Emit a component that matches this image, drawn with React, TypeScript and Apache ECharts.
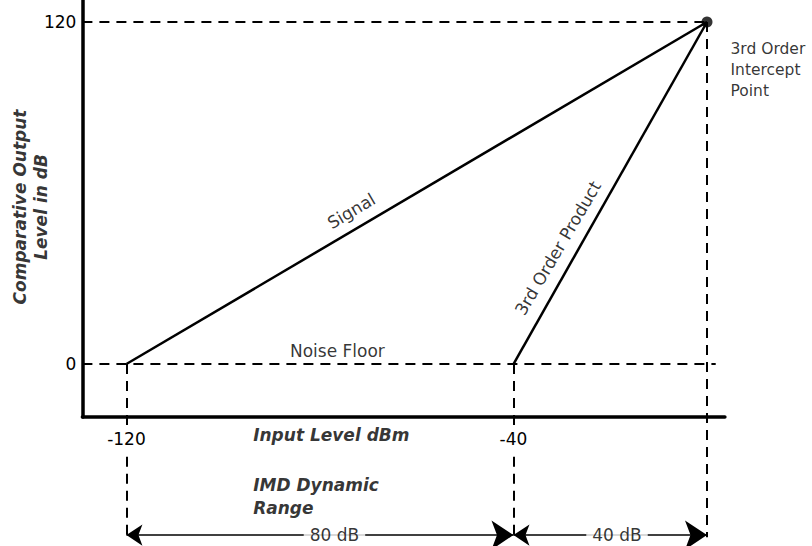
import React, { useEffect, useRef } from "react";
import * as echarts from "echarts";

// axis ranges (data units)
const xRange = [-129.1, 3.7];
const yRange = [-18.6, 127.7];
const xTickValues = [-120, -40];
const yTickValues = [0, 120];

// model lines
const signalLine = [[-120, 0], [0, 120]];
const productLine = [[-40, 0], [0, 120]];
const interceptPoint = [0, 120];

// dashed guide lines (vertical ones broken around the tick labels)
const guideLines = [
  [[-129.1, 120], [0, 120]],
  [[-129.1, 0], [1.8, 0]],
  [[-120, 0], [-120, -22]],
  [[-120, -32.5], [-120, -60.8]],
  [[-40, 0], [-40, -22]],
  [[-40, -32.5], [-40, -60.8]],
  [[0, 120], [0, -60.8]],
];

// dynamic range arrows
const rangeLevel = -60;
const rangeSpans = [
  [-120, -40],
  [-40, 0],
];
const rangeTexts = ["80 dB", "40 dB"];
const rangeTextX = [-77, -18.6];

const FONT = "DejaVu Sans";

export default function App() {
  const ref = useRef<HTMLDivElement>(null);
  useEffect(() => {
    const chart = echarts.init(ref.current!, null, { renderer: "svg" });
    const baseText = { color: "#000", fontFamily: FONT, fontSize: 17 };
    const boldText = { ...baseText, fontWeight: "bold", fontStyle: "italic" };
    const ann = (value: number[], text: string, extra: any) => ({
      value,
      label: { show: true, formatter: text, position: "inside", align: "center", verticalAlign: "middle", ...baseText, ...extra },
    });
    chart.setOption({
      animation: false,
      grid: { left: 82.4, top: 0.05, width: 642.5, height: 417 },
      xAxis: {
        type: "value",
        min: xRange[0],
        max: xRange[1],
        axisLine: { show: true, onZero: false, lineStyle: { color: "#000", width: 3.5 } },
        axisTick: { show: false },
        splitLine: { show: false },
        axisLabel: { customValues: xTickValues, margin: 13, ...baseText },
      },
      yAxis: {
        type: "value",
        min: yRange[0],
        max: yRange[1],
        axisLine: { show: true, onZero: false, lineStyle: { color: "#000", width: 3.5 } },
        axisTick: { show: false },
        splitLine: { show: false },
        axisLabel: { customValues: yTickValues, margin: 6, ...baseText },
      },
      series: [
        {
          type: "lines",
          coordinateSystem: "cartesian2d",
          polyline: false,
          silent: true,
          clip: false,
          symbol: "none",
          lineStyle: { color: "#000", width: 2, type: [10, 7], opacity: 1 },
          data: guideLines.map((c) => ({ coords: c })),
        },
        {
          type: "lines",
          coordinateSystem: "cartesian2d",
          silent: true,
          clip: false,
          symbol: ["arrow", "arrow"],
          symbolSize: [16, 22],
          lineStyle: { color: "#000", width: 1.5, opacity: 1 },
          itemStyle: { color: "#000" },
          data: rangeSpans.map((s) => ({ coords: [[s[0], rangeLevel], [s[1], rangeLevel]] })),
        },
        {
          type: "line",
          showSymbol: false,
          clip: false,
          lineStyle: { color: "#000", width: 2.5 },
          data: signalLine,
        },
        {
          type: "line",
          showSymbol: false,
          clip: false,
          lineStyle: { color: "#000", width: 2.5 },
          data: productLine,
        },
        {
          type: "scatter",
          clip: false,
          symbolSize: 11,
          itemStyle: { color: "#000" },
          data: [
            {
              value: interceptPoint,
              label: {
                show: true,
                formatter: "3rd Order\nIntercept\nPoint",
                position: [29, 22],
                align: "left",
                verticalAlign: "top",
                lineHeight: 21,
                ...baseText,
                fontSize: 15.5,
              },
            },
          ],
        },
        {
          type: "scatter",
          clip: false,
          symbolSize: 0,
          silent: true,
          itemStyle: { color: "transparent" },
          data: [
            ann([-73.5, 53.7], "Signal", { rotate: 30.5 }),
            ann([-30.8, 40.7], "3rd Order Product", { rotate: 59.5 }),
            ann([-76.4, 4.6], "Noise Floor", {}),
            ann([-139.9, 55.1], "Comparative Output\nLevel in dB", { ...boldText, rotate: 90, lineHeight: 21 }),
            ann([-93.8, -24.9], "Input Level dBm", { ...boldText, align: "left" }),
            ann([-93.8, -46.3], "IMD Dynamic\nRange", { ...boldText, align: "left", lineHeight: 23 }),
            ...rangeTexts.map((t, i) =>
              ann([rangeTextX[i], rangeLevel], t, { backgroundColor: "#fff", padding: [0, 6] })
            ),
          ],
        },
      ],
    });
    return () => chart.dispose();
  }, []);
  return (
    <div
      ref={ref}
      style={{ position: "fixed", left: 0, top: 0, width: 812, height: 546, background: "#fff" }}
    />
  );
}
